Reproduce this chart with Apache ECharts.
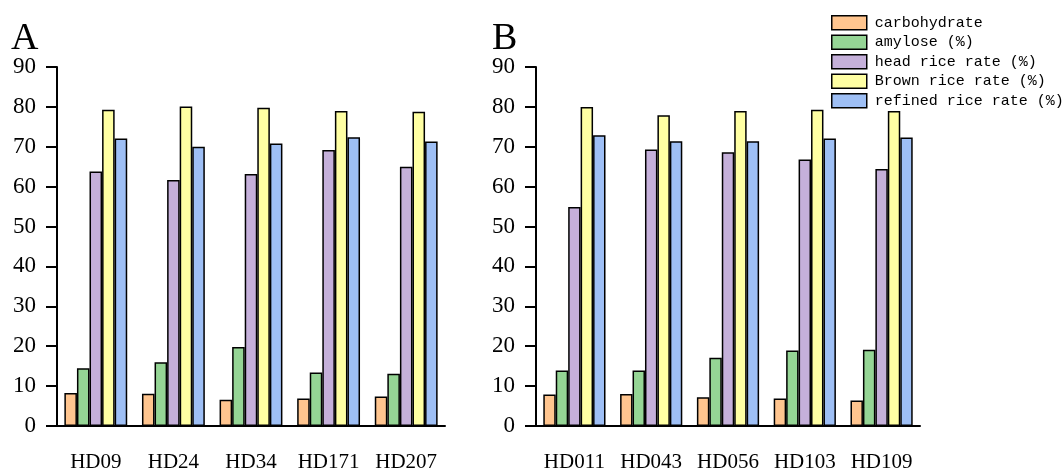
<!DOCTYPE html>
<html>
<head>
<meta charset="utf-8">
<script src="https://cdn.jsdelivr.net/npm/echarts@6/dist/echarts.min.js"></script>
<style>
html,body{margin:0;padding:0;background:#fff;}
#chart{width:1062px;height:473px;}
</style>
</head>
<body>
<div id="chart"></div>
<script>
var seriesNames = ['carbohydrate', 'amylose (%)', 'head rice rate (%)', 'Brown rice rate (%)', 'refined rice rate (%)'];
var seriesColors = ['#FFC58F', '#95D595', '#C5B0DA', '#FFFFA3', '#9EBFF5'];

var catsA = ['HD09', 'HD24', 'HD34', 'HD171', 'HD207'];
var carbA = [8.3, 8.1, 6.6, 6.9, 7.4];
var amyA = [14.5, 16.0, 19.8, 13.4, 13.1];
var headA = [63.8, 61.7, 63.2, 69.2, 65.0];
var brownA = [79.3, 80.1, 79.8, 79.0, 78.8];
var refinedA = [72.1, 70.0, 70.8, 72.4, 71.3];

var catsB = ['HD011', 'HD043', 'HD056', 'HD103', 'HD109'];
var carbB = [7.9, 8.0, 7.2, 6.9, 6.4];
var amyB = [13.9, 13.9, 17.1, 18.9, 19.1];
var headB = [54.9, 69.3, 68.6, 66.8, 64.4];
var brownB = [80.0, 77.9, 79.0, 79.3, 79.0];
var refinedB = [72.9, 71.4, 71.4, 72.1, 72.3];

var yTicks = {min: 0, max: 90, interval: 10};

var dataA = [carbA, amyA, headA, brownA, refinedA];
var dataB = [carbB, amyB, headB, brownB, refinedB];

var serifFont = '"Liberation Serif", "DejaVu Serif", serif';

function xAxis(idx, cats) {
  return {
    type: 'category', gridIndex: idx, data: cats,
    axisLine: {lineStyle: {color: '#000', width: 2}},
    axisTick: {alignWithLabel: true, length: 11, lineStyle: {color: '#000', width: 2}},
    axisLabel: {color: '#000', fontFamily: serifFont, fontSize: 21, margin: 26, interval: 0}
  };
}
function yAxis(idx) {
  return {
    type: 'value', gridIndex: idx, min: yTicks.min, max: yTicks.max, interval: yTicks.interval,
    splitLine: {show: false},
    axisLine: {show: true, lineStyle: {color: '#000', width: 2}},
    axisTick: {show: true, length: 11, lineStyle: {color: '#000', width: 2}},
    axisLabel: {color: '#000', fontFamily: serifFont, fontSize: 23, margin: 21}
  };
}

var series = [];
[dataA, dataB].forEach(function (group, gi) {
  group.forEach(function (vals, si) {
    series.push({
      type: 'bar', name: seriesNames[si], xAxisIndex: gi, yAxisIndex: gi,
      data: vals, barGap: '0%', barCategoryGap: '19%',
      itemStyle: {color: seriesColors[si], borderColor: '#000', borderWidth: 1.5},
      emphasis: {disabled: true}
    });
  });
});

var chart = echarts.init(document.getElementById('chart'), null, {renderer: 'canvas'});
chart.setOption({
  animation: false,
  backgroundColor: '#fff',
  grid: [
    {left: 57, top: 67, width: 388, height: 363},
    {left: 536, top: 67, width: 384, height: 360}
  ],
  xAxis: [xAxis(0, catsA), xAxis(1, catsB)],
  yAxis: [yAxis(0), yAxis(1)],
  legend: {
    data: seriesNames, orient: 'vertical', left: 829, top: 13, padding: 2,
    itemWidth: 35, itemHeight: 14, itemGap: 4,
    icon: 'rect',
    itemStyle: {borderColor: '#000', borderWidth: 1.5},
    textStyle: {color: '#000', fontFamily: '"Liberation Mono", "DejaVu Sans Mono", monospace', fontSize: 15, lineHeight: 14, padding: [0, 0, 0, 3]}
  },
  graphic: [
    {type: 'text', left: 11, top: 20, style: {text: 'A', fill: '#000', font: '38px "Liberation Serif", serif'}},
    {type: 'text', left: 492, top: 20, style: {text: 'B', fill: '#000', font: '38px "Liberation Serif", serif'}}
  ],
  series: series
});
</script>
</body>
</html>
